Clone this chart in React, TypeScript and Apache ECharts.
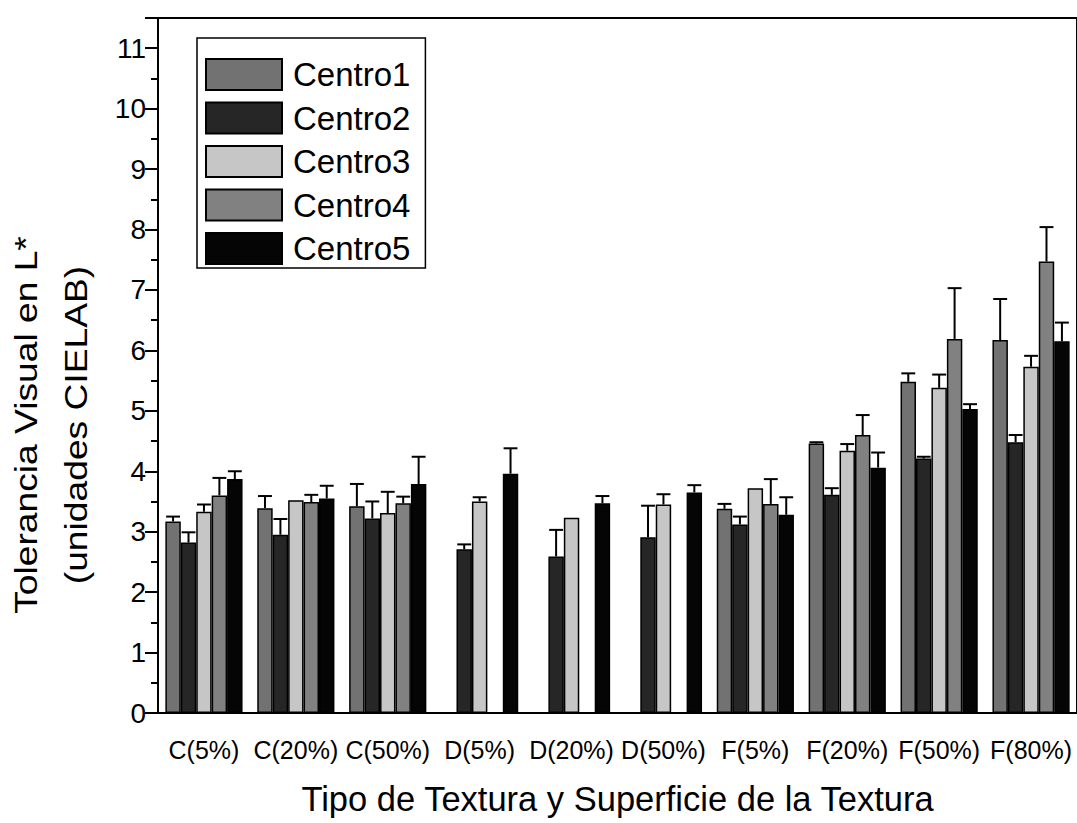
import React, { useEffect, useRef } from "react";
import * as echarts from "echarts";

const categories = ["C(5%)", "C(20%)", "C(50%)", "D(5%)", "D(20%)", "D(50%)", "F(5%)", "F(20%)", "F(50%)", "F(80%)"];
const seriesNames = ["Centro1", "Centro2", "Centro3", "Centro4", "Centro5"];

const centro1 = [3.17, 3.39, 3.42, null, null, null, 3.38, 4.46, 5.48, 6.17];
const centro1Top = [3.25, 3.59, 3.79, null, null, null, 3.46, 4.48, 5.62, 6.85];
const centro2 = [2.82, 2.95, 3.22, 2.71, 2.59, 2.91, 3.12, 3.61, 4.21, 4.48];
const centro2Top = [2.99, 3.21, 3.5, 2.79, 3.03, 3.43, 3.25, 3.72, 4.24, 4.6];
const centro3 = [3.33, 3.52, 3.31, 3.5, 3.23, 3.45, 3.72, 4.34, 5.38, 5.73];
const centro3Top = [3.45, null, 3.66, 3.57, null, 3.62, null, 4.45, 5.6, 5.91];
const centro4 = [3.6, 3.49, 3.47, null, null, null, 3.46, 4.6, 6.19, 7.47];
const centro4Top = [3.89, 3.61, 3.58, null, null, null, 3.87, 4.93, 7.03, 8.04];
const centro5 = [3.87, 3.55, 3.79, 3.96, 3.47, 3.65, 3.28, 4.06, 5.03, 6.15];
const centro5Top = [4.0, 3.76, 4.24, 4.38, 3.59, 3.77, 3.57, 4.31, 5.11, 6.46];

const yTickValues = [0, 1, 2, 3, 4, 5, 6, 7, 8, 9, 10, 11];

const values = [centro1, centro2, centro3, centro4, centro5];
const tops = [centro1Top, centro2Top, centro3Top, centro4Top, centro5Top];
const colors = ["#727272", "#262626", "#c6c6c6", "#818181", "#050505"];

const GAP = 0.16;
const FONT = "'Liberation Sans', Arial, Helvetica, sans-serif";

export default function App() {
  const ref = useRef<HTMLDivElement>(null);
  useEffect(() => {
    document.body.style.margin = "0";
    const chart = echarts.init(ref.current!, undefined, { renderer: "svg" });

    const barSeries = seriesNames.map((name, s) => ({
      type: "bar",
      name,
      data: values[s].map((v) => (v == null ? "-" : v)),
      barCategoryGap: `${GAP * 100}%`,
      barGap: "0%",
      itemStyle: { color: colors[s], borderColor: "#000", borderWidth: 1.5 },
      z: 2,
    }));

    const errSeries = seriesNames.map((name, s) => ({
      type: "custom",
      name: "err_" + name,
      data: categories
        .map((_, i) => [i, values[s][i], tops[s][i]])
        .filter((d) => d[1] != null && d[2] != null),
      encode: { x: 0, y: 2 },
      z: 5,
      silent: true,
      renderItem: (params: any, api: any) => {
        const ci = api.value(0);
        const v = api.value(1);
        const e = api.value(2);
        const band = api.size([1, 0])[0];
        const groupW = band * (1 - GAP);
        const bw = groupW / 5;
        const x = api.coord([ci, 0])[0] - groupW / 2 + bw * (s + 0.5);
        const y0 = api.coord([ci, v])[1];
        const y1 = api.coord([ci, e])[1];
        const half = bw * 0.45;
        return {
          type: "group",
          children: [
            { type: "line", shape: { x1: x, y1: y0, x2: x, y2: y1 }, style: { stroke: "#000", lineWidth: 2 } },
            { type: "line", shape: { x1: x - half, y1: y1, x2: x + half, y2: y1 }, style: { stroke: "#000", lineWidth: 2 } },
          ],
        };
      },
    }));

    chart.setOption({
      animation: false,
      backgroundColor: "#fff",
      textStyle: { fontFamily: FONT },
      grid: {
        left: 158,
        right: -6,
        top: 18,
        bottom: 110,
        show: true,
        borderColor: "#000",
        borderWidth: 2,
        backgroundColor: "transparent",
      },
      legend: {
        data: seriesNames,
        orient: "vertical",
        left: 197,
        top: 38,
        itemWidth: 76,
        itemHeight: 31,
        itemGap: 10.5,
        padding: [20, 15, 3, 8],
        borderColor: "#000",
        borderWidth: 1.5,
        icon: "rect",
        textStyle: { fontSize: 33, lineHeight: 31, color: "#000", fontFamily: FONT, padding: [0, 0, 0, 6] },
      },
      xAxis: [
        {
          type: "category",
          data: categories,
          position: "bottom",
          axisLine: { lineStyle: { color: "#000", width: 2 } },
          axisTick: { alignWithLabel: true, length: 12, lineStyle: { color: "#000", width: 2 } },
          axisLabel: { color: "#000", fontSize: 25, fontFamily: FONT, margin: 24, interval: 0 },
          name: "Tipo de Textura y Superficie de la Textura",
          nameLocation: "middle",
          nameGap: 68,
          nameTextStyle: { color: "#000", fontSize: 34.5, fontFamily: FONT },
        },
        {
          type: "category",
          data: categories,
          position: "bottom",
          axisLine: { show: false },
          axisTick: { inside: true, length: 5, lineStyle: { color: "#000", width: 3 } },
          axisLabel: { show: false },
        },
      ],
      yAxis: {
        type: "value",
        min: 0,
        max: 11.5,
        interval: 1,
        axisLine: { show: true, lineStyle: { color: "#000", width: 2 } },
        axisTick: { show: true, length: 13, lineStyle: { color: "#000", width: 2 } },
        minorTick: { show: true, splitNumber: 2, length: 7, lineStyle: { color: "#000", width: 2 } },
        splitLine: { show: false },
        axisLabel: {
          color: "#000",
          fontSize: 28,
          fontFamily: FONT,
          margin: 12,
          formatter: (v: number) => (yTickValues.includes(v) ? String(v) : ""),
        },
      },
      graphic: [
        {
          type: "text",
          x: 51,
          y: 425,
          rotation: Math.PI / 2,
          scaleX: 1.2,
          style: {
            text: "Tolerancia Visual en L*\n(unidades CIELAB)",
            fontSize: 31,
            lineHeight: 50,
            fontFamily: FONT,
            fill: "#000",
            align: "center",
            verticalAlign: "middle",
          },
        },
      ],
      series: [...barSeries, ...errSeries],
    });
    return () => chart.dispose();
  }, []);
  return <div ref={ref} style={{ width: 1077, height: 823 }} />;
}
